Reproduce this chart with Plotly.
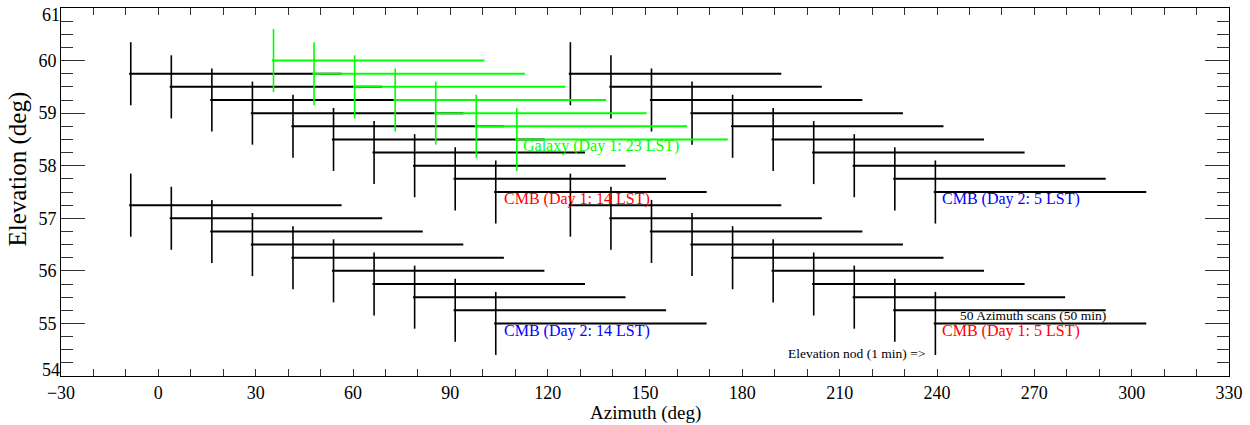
import plotly.graph_objects as go

# ---- data ----
cmb_day1_14_az = [-8.5, 4.0, 16.5, 29.0, 41.5, 54.0, 66.5, 79.0, 91.5, 104.0]
cmb_day1_14_el = [59.75, 59.5, 59.25, 59.0, 58.75, 58.5, 58.25, 58.0, 57.75, 57.5]

cmb_day2_5_az = [127.0, 139.5, 152.0, 164.5, 177.0, 189.5, 202.0, 214.5, 227.0, 239.5]
cmb_day2_5_el = [59.75, 59.5, 59.25, 59.0, 58.75, 58.5, 58.25, 58.0, 57.75, 57.5]

cmb_day2_14_az = [-8.5, 4.0, 16.5, 29.0, 41.5, 54.0, 66.5, 79.0, 91.5, 104.0]
cmb_day2_14_el = [57.25, 57.0, 56.75, 56.5, 56.25, 56.0, 55.75, 55.5, 55.25, 55.0]

cmb_day1_5_az = [127.0, 139.5, 152.0, 164.5, 177.0, 189.5, 202.0, 214.5, 227.0, 239.5]
cmb_day1_5_el = [57.25, 57.0, 56.75, 56.5, 56.25, 56.0, 55.75, 55.5, 55.25, 55.0]

galaxy_day1_23_az = [35.5, 48.0, 60.5, 73.0, 85.5, 98.0, 110.5]
galaxy_day1_23_el = [60.0, 59.75, 59.5, 59.25, 59.0, 58.75, 58.5]

y_tick_vals = [54, 55, 56, 57, 58, 59, 60, 61]
y_inner_labels = ["", "55", "56", "57", "58", "59", "60", ""]
y_top_label = "61"
y_bottom_label = "54"

scan_width = 65.0      # azimuth scan extent (deg)
nod_half = 0.6         # elevation nod half-amplitude (deg)
scan_lead = 0.5        # scan begins slightly before the nod azimuth

FONT = "Liberation Serif"
Y_RANGE = [54, 61]


def scan_xy(az, el):
    xs, ys = [], []
    for a, e in zip(az, el):
        xs += [a - scan_lead, a + scan_width, None]
        ys += [e, e, None]
    return xs, ys


def nod_xy(az, el):
    xs, ys = [], []
    for a, e in zip(az, el):
        xs += [a, a, None]
        ys += [e - nod_half, e + nod_half, None]
    return xs, ys


fig = go.Figure()

groups = [
    (cmb_day1_14_az, cmb_day1_14_el, "black"),
    (cmb_day2_5_az, cmb_day2_5_el, "black"),
    (cmb_day2_14_az, cmb_day2_14_el, "black"),
    (cmb_day1_5_az, cmb_day1_5_el, "black"),
    (galaxy_day1_23_az, galaxy_day1_23_el, "#00ff00"),
]
for az, el, col in groups:
    sx, sy = scan_xy(az, el)
    fig.add_trace(go.Scatter(x=sx, y=sy, mode="lines",
                             line=dict(color=col, width=2),
                             showlegend=False, hoverinfo="skip"))
    nx, ny = nod_xy(az, el)
    fig.add_trace(go.Scatter(x=nx, y=ny, mode="lines",
                             line=dict(color=col, width=1.6),
                             showlegend=False, hoverinfo="skip"))

# empty traces so the overlay label axes are drawn
fig.add_trace(go.Scatter(x=[None], y=[None], yaxis="y2", showlegend=False, hoverinfo="skip"))
fig.add_trace(go.Scatter(x=[None], y=[None], yaxis="y3", showlegend=False, hoverinfo="skip"))

labels = [
    ("Galaxy (Day 1: 23 LST)", 112.0, 58.37, "#00ff00", 16, "left"),
    ("CMB (Day 1: 14 LST)", 106.2, 57.36, "#ff0000", 16, "left"),
    ("CMB (Day 2: 5 LST)", 241.2, 57.36, "#0000ff", 16, "left"),
    ("CMB (Day 2: 14 LST)", 106.2, 54.86, "#0000ff", 16, "left"),
    ("CMB (Day 1: 5 LST)", 241.2, 54.85, "#ff0000", 16, "left"),
    ("50 Azimuth scans (50 min)", 269.6, 55.16, "black", 13.5, "center"),
    ("Elevation nod (1 min) =>", 236.6, 54.42, "black", 13.5, "right"),
]
for txt, x, y, col, sz, anc in labels:
    fig.add_annotation(x=x, y=y, xref="x", yref="y", text=txt, showarrow=False,
                       xanchor=anc, yanchor="middle", borderpad=0,
                       font=dict(family=FONT, size=sz, color=col))

# axis titles
fig.add_annotation(x=0.5, y=0, xref="paper", yref="paper", text="Azimuth (deg)",
                   showarrow=False, xanchor="center", yanchor="middle", yshift=-37,
                   font=dict(family=FONT, size=19, color="black"))
fig.add_annotation(x=0, y=0.561, xref="paper", yref="paper", text="Elevation (deg)",
                   showarrow=False, xanchor="center", yanchor="middle", xshift=-43,
                   textangle=-90,
                   font=dict(family=FONT, size=25, color="black"))

tickfont = dict(family=FONT, size=18, color="black")

fig.update_xaxes(range=[-30, 330], tickmode="linear", tick0=-30, dtick=30,
                 ticks="inside", ticklen=7, tickwidth=1, tickcolor="#333",
                 minor=dict(dtick=10, tick0=-30, ticks="inside", ticklen=4,
                            tickwidth=1, tickcolor="#333"),
                 showline=True, linecolor="black", linewidth=1, mirror="allticks",
                 showgrid=False, zeroline=False, automargin=False,
                 ticklabeloverflow="allow", tickfont=tickfont)

fig.update_layout(
    yaxis=dict(range=Y_RANGE, tickmode="array", tickvals=y_tick_vals,
               ticktext=y_inner_labels,
               ticks="inside", ticklen=24, tickwidth=1, tickcolor="#333",
               minor=dict(dtick=0.25, tick0=54, ticks="inside", ticklen=12,
                          tickwidth=1, tickcolor="#333"),
               showline=True, linecolor="black", linewidth=1, mirror="allticks",
               showgrid=False, zeroline=False, automargin=False,
               ticklabeloverflow="allow", tickfont=tickfont),
    yaxis2=dict(range=Y_RANGE, overlaying="y", side="left", tickmode="array",
                tickvals=[y_tick_vals[-1]], ticktext=[y_top_label],
                ticks="", showline=False, showgrid=False, zeroline=False,
                automargin=False, ticklabelshift=7,
                ticklabeloverflow="allow", tickfont=tickfont),
    yaxis3=dict(range=Y_RANGE, overlaying="y", side="left", tickmode="array",
                tickvals=[y_tick_vals[0]], ticktext=[y_bottom_label],
                ticks="", showline=False, showgrid=False, zeroline=False,
                automargin=False, ticklabelshift=-6,
                ticklabeloverflow="allow", tickfont=tickfont),
)

fig.update_layout(width=1250, height=425,
                  margin=dict(l=61, r=21, t=8, b=49),
                  paper_bgcolor="white", plot_bgcolor="white",
                  showlegend=False)

fig.write_html("out.html")
